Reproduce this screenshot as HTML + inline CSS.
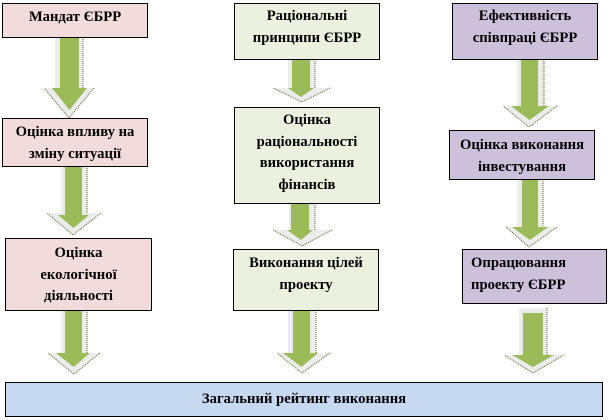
<!DOCTYPE html>
<html>
<head>
<meta charset="utf-8">
<style>
html,body{margin:0;padding:0;background:#fff;}
body{width:609px;height:420px;position:relative;overflow:hidden;font-family:"Liberation Serif","Times New Roman","DejaVu Serif",serif;}
svg{position:absolute;left:0;top:0;}
.b{position:absolute;box-sizing:border-box;border:1px solid #000;font-family:"Liberation Serif","Times New Roman","DejaVu Serif",serif;font-weight:bold;font-size:14.67px;line-height:21.5px;text-align:center;padding-top:3px;color:#000;white-space:nowrap;}
.p{background:#f2dcdb;}
.g{background:#ebf1de;}
.v{background:#ccc0da;}
.bl{background:#c6d9f1;}
</style>
</head>
<body>
<svg width="609" height="420" viewBox="0 0 609 420">
<g fill="#ececec">
<polygon points="55,37 83,37 83,88 94,88 69,118 44,88 55,88"/>
<polygon points="61,166 87,166 87,213 101,213 73,235 47,213 61,213"/>
<polygon points="61,310 87,310 87,353 100,353 74,374 48,353 61,353"/>
<polygon points="288,59 315,59 315,88 330,88 302,102 273,88 288,88"/>
<polygon points="289,203 315,203 315,230 332,230 302,246 273,230 289,230"/>
<polygon points="288,310 316,310 316,353 330,353 302,373 277,353 288,353"/>
<polygon points="517,59 544,59 544,106 557,106 529,127 503,106 517,106"/>
<polygon points="517,179 543,179 543,227 557,227 529,247 506,227 517,227"/>
<polygon points="519,308 547,308 547,355 564,355 533,373 504,355 519,355"/>
</g>
<g fill="none" stroke="#4f6228" stroke-width="1" stroke-dasharray="1 1">
<polyline points="83,37 83,88"/><polyline points="94,88 69,118 44,88"/>
<polyline points="87,166 87,213"/><polyline points="101,213 73,235 47,213"/>
<polyline points="87,310 87,353"/><polyline points="100,353 74,374 48,353"/>
<polyline points="315,59 315,88"/><polyline points="330,88 302,102 273,88"/>
<polyline points="315,203 315,230"/><polyline points="332,230 302,246 273,230"/>
<polyline points="316,310 316,353"/><polyline points="330,353 302,373 277,353"/>
<polyline points="544,59 544,106"/><polyline points="557,106 529,127 503,106"/>
<polyline points="543,179 543,227"/><polyline points="557,227 529,247 506,227"/>
<polyline points="547,308 547,355"/><polyline points="564,355 533,373 504,355"/>
</g>
<g fill="#9bbb59">
<polygon points="60,37 79,37 79,88 87,88 69.5,110 52,88 60,88"/>
<polygon points="65,166 82,166 82,215 89,215 73.5,228 58,215 65,215"/>
<polygon points="65,310 82,310 82,353 90,353 73.5,367 56,353 65,353"/>
<polygon points="292,59 310,59 310,88 314,88 301,97 288,88 292,88"/>
<polygon points="291,203 309,203 309,230 313,230 301,240 287,230 291,230"/>
<polygon points="293,310 310,310 310,353 318,353 301.5,367 283,353 293,353"/>
<polygon points="521,59 538,59 538,106 549,106 529.5,120 511,106 521,106"/>
<polygon points="522,179 538,179 538,227 548,227 530,240 512,227 522,227"/>
<polygon points="523,313 543,313 543,355 554,355 533,367 512,355 523,355"/>
</g>
</svg>

<div class="b p" style="left:2px;top:3px;width:146px;height:35px;">Мандат ЄБРР</div>
<div class="b p" style="left:2px;top:118px;width:146px;height:49px;">Оцінка впливу на<br>зміну ситуації</div>
<div class="b p" style="left:5px;top:238px;width:147px;height:73px;padding-top:4px;">Оцінка<br>екологічної<br>діяльності</div>

<div class="b g" style="left:234px;top:3px;width:146px;height:57px;padding-top:2px;">Раціональні<br>принципи ЄБРР</div>
<div class="b g" style="left:234px;top:107px;width:146px;height:97px;padding-top:2px;">Оцінка<br>раціональності<br>використання<br>фінансів</div>
<div class="b g" style="left:233px;top:249px;width:146px;height:62px;">Виконання цілей<br>проекту</div>

<div class="b v" style="left:452px;top:3px;width:146px;height:57px;padding-top:2px;">Ефективність<br>співпраці ЄБРР</div>
<div class="b v" style="left:449px;top:130px;width:146px;height:50px;padding-top:4px;">Оцінка виконання<br>інвестування</div>
<div class="b v" style="left:462px;top:249px;width:145px;height:55px;text-align:left;padding-left:8px;">Опрацювання<br>проекту ЄБРР</div>

<div class="b bl" style="left:5px;top:382px;width:598px;height:35px;padding-top:6px;">Загальний рейтинг виконання</div>
</body>
</html>
